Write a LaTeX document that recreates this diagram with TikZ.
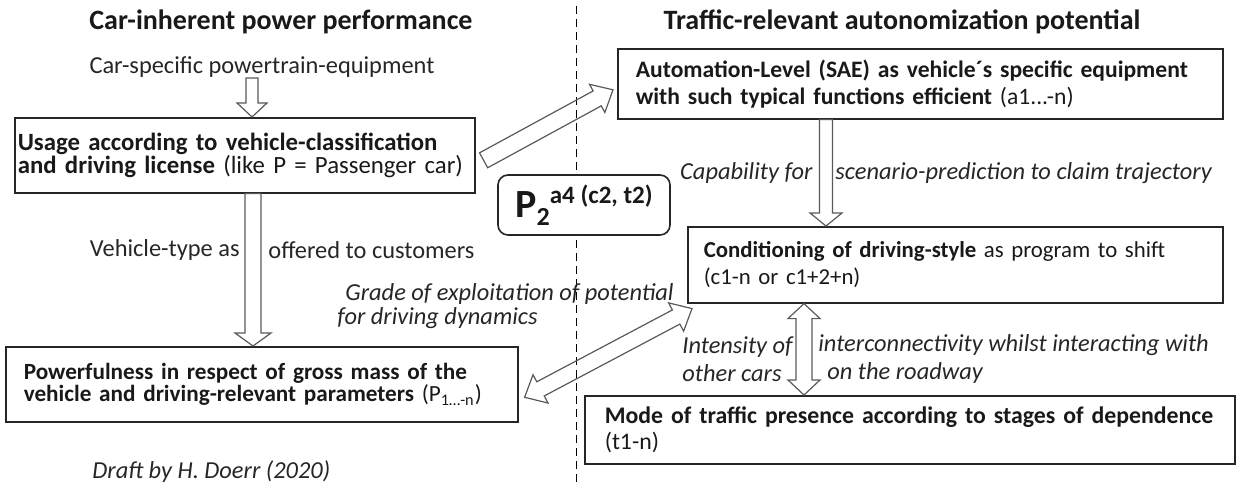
\documentclass[tikz,border=0pt]{standalone}
\usepackage{fontspec}
\setmainfont{Carlito}
\usetikzlibrary{positioning,calc}

\setlength{\lineskiplimit}{-20pt}

\tikzset{
  box/.style={draw=black!85, line width=0.8pt, align=left, inner ysep=0pt, anchor=north west, text=black!90},
  lbox/.style={box, inner xsep=9pt, font=\fontsize{12.4}{11.2}\selectfont},
  rbox/.style={box, inner xsep=9pt, font=\fontsize{11.8}{13.4}\selectfont},
  title/.style={inner sep=0pt, font=\fontsize{14}{16}\selectfont\bfseries, text=black!90},
  note/.style={inner sep=0pt, font=\fontsize{12.2}{13}\selectfont, text=black!85},
  remark/.style={inner sep=0pt, font=\fontsize{12.2}{12}\selectfont\itshape, text=black!85},
  pbox/.style={draw=black!85, line width=0.8pt, rounded corners=5pt, fill=white, minimum width=86pt, minimum height=30pt, inner sep=0pt, font=\bfseries, text=black!90},
  hollow/.style={draw=black!65, line width=0.6pt, line join=miter},
  sep/.style={black, line width=0.5pt, dash pattern=on 4pt off 2.5pt}
}

% block arrow: from, to, half shaft, half head, head length
\newcommand{\blockarrow}[5]{%
  \draw[hollow] ($(#1)!#3!90:(#2)$) -- ($(#2)!#5!(#1)!#3!90:(#2)$) -- ($(#2)!#5!(#1)!#4!90:(#2)$) -- (#2)
    -- ($(#2)!#5!(#1)!#4!-90:(#2)$) -- ($(#2)!#5!(#1)!#3!-90:(#2)$) -- ($(#1)!#3!-90:(#2)$) -- cycle;}
% same with a head at both ends
\newcommand{\blockarrowboth}[5]{%
  \draw[hollow] (#1) -- ($(#1)!#5!(#2)!#4!90:(#2)$) -- ($(#1)!#5!(#2)!#3!90:(#2)$) -- ($(#2)!#5!(#1)!#3!90:(#2)$)
    -- ($(#2)!#5!(#1)!#4!90:(#2)$) -- (#2) -- ($(#2)!#5!(#1)!#4!-90:(#2)$) -- ($(#2)!#5!(#1)!#3!-90:(#2)$)
    -- ($(#1)!#5!(#2)!#3!-90:(#2)$) -- ($(#1)!#5!(#2)!#4!-90:(#2)$) -- cycle;}

\begin{document}
\begin{tikzpicture}[x=0.5pt, y=-0.5pt]
  \useasboundingbox (0,0) rectangle (1236,486);
  \draw[sep] (576,6) -- (576,486);

  % headings
  \node[title] (lhead) at (281,22) {Car-inherent power performance};
  \node[title] (rhead) at (902,22) {Traffic-relevant autonomization potential};
  \node[note] (spec) at (262,67) {Car-specific powertrain-equipment};

  % boxes
  \node[lbox, inner xsep=1.5pt, text width=227pt, minimum height=37.5pt] (usage) at (14,117)
    {\textbf{Usage according to vehicle-classification\\and driving license} (like P = Passenger car)};
  \node[lbox, font=\fontsize{11.6}{11}\selectfont, text width=238pt, minimum height=37.5pt] (power) at (5,346)
    {\textbf{Powerfulness in respect of gross mass of the\\vehicle and driving-relevant parameters} (P\textsubscript{1…-n})};
  \node[rbox, text width=284.5pt, minimum height=35pt] (auto) at (617,48)
    {\mbox{\textbf{Automation-Level (SAE) as vehicle´s specific equipment}}\\\textbf{with such typical functions efficient} (a1...-n)};
  \node[rbox, font=\fontsize{11.4}{13.4}\selectfont, inner xsep=8pt, text width=251.5pt, minimum height=38pt] (cond) at (687,226)
    {\textbf{Conditioning of driving-style} as program to shift\\(c1-n or c1+2+n)};
  \node[rbox, font=\fontsize{11.9}{13.4}\selectfont, inner xsep=10pt, text width=305pt, minimum height=34pt] (mode) at (584,395)
    {\mbox{\textbf{Mode of traffic presence according to stages of dependence}}\\(t1-n)};

  % labels
  \node[note, anchor=east] (vtype) at (240,250) {Vehicle-type as};
  \node[note, anchor=west] (offer) at (268,250) {offered to customers};
  \node[remark, anchor=east] (capab) at (813,173) {Capability for};
  \node[remark, anchor=west] (scen) at (835,173) {scenario-prediction to claim trajectory};
  \node[remark, anchor=west, align=left] (grade) at (337,306)
    {\hspace*{4pt}Grade of exploitation of potential\\for driving dynamics};
  \node[remark, anchor=west, align=left, font=\fontsize{12.2}{14}\selectfont\itshape] (inten) at (682,359)
    {Intensity of\\other cars};
  \node[remark, anchor=west, align=left, font=\fontsize{12.2}{14}\selectfont\itshape] (inter) at (818,359)
    {interconnectivity whilst interacting with\\\hspace*{4.5pt}on the roadway};
  \node[remark, anchor=west] (draft) at (92,472) {Draft by H. Doerr (2020)};

  % block arrows
  \coordinate (t1) at (252,78);
  \coordinate (t2) at (t1 |- usage.north);
  \blockarrow{t1}{t2}{3pt}{7.5pt}{7pt}
  \coordinate (v1) at ($(usage.south west)+(239,0)$);
  \coordinate (v2) at (v1 |- power.north);
  \blockarrow{v1}{v2}{4pt}{9pt}{6.5pt}
  \coordinate (c1) at ($(auto.south west)+(209,0)$);
  \coordinate (c2) at (c1 |- cond.north);
  \blockarrow{c1}{c2}{3.25pt}{8pt}{6.5pt}
  \coordinate (d1) at ($(usage.east)+(8,5)$);
  \coordinate (d2) at ($(auto.west)+(-4,6)$);
  \blockarrow{d1}{d2}{4.25pt}{8pt}{9pt}
  \coordinate (g1) at ($(power.east)+(6,13)$);
  \coordinate (g2) at ($(cond.south west)+(5,5)$);
  \blockarrowboth{g1}{g2}{4pt}{8pt}{9pt}
  \coordinate (i1) at ($(cond.south west)+(117,0)$);
  \coordinate (i2) at (i1 |- mode.north);
  \blockarrowboth{i1}{i2}{4pt}{8pt}{7.5pt}

  % index box
  \node[pbox] (ptwo) at (584,205)
    {\fontsize{20}{20}\selectfont P\raisebox{-4pt}{\fontsize{13}{13}\selectfont 2}\raisebox{7pt}{\fontsize{12.5}{13}\selectfont a4 (c2, t2)}};
\end{tikzpicture}
\end{document}
